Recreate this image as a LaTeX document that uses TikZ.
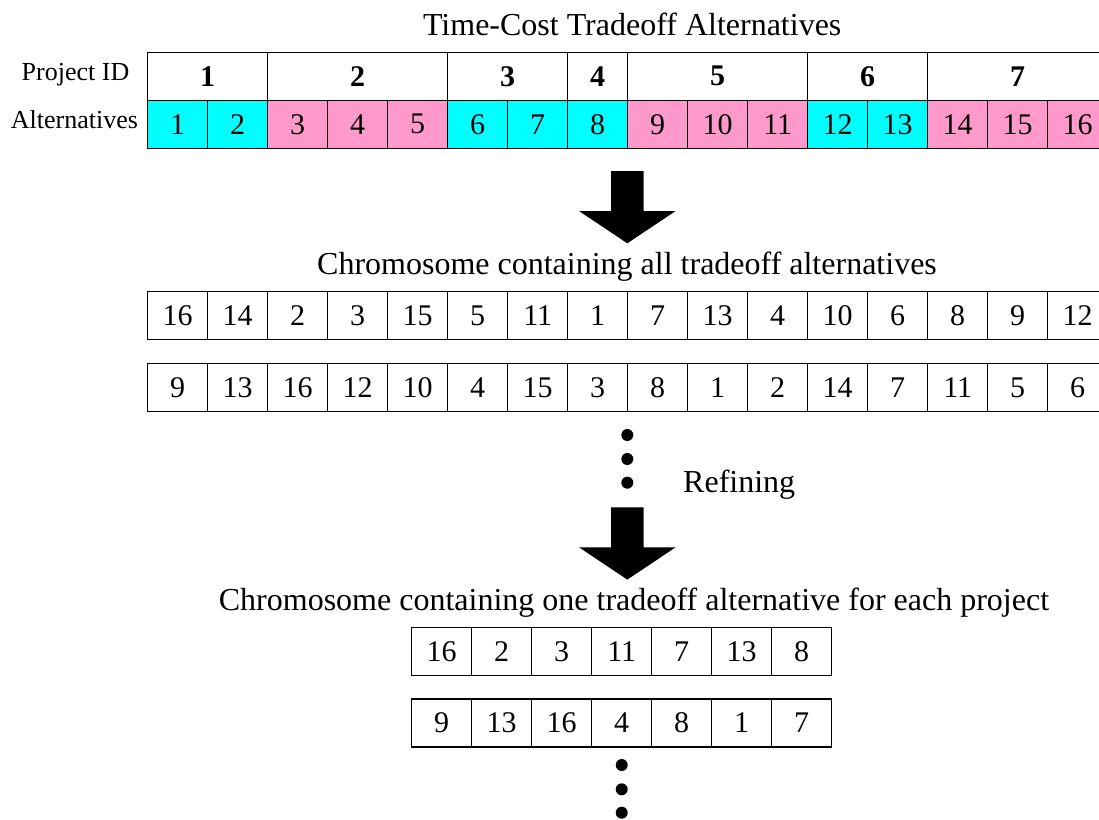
\documentclass[tikz,border=0pt]{standalone}
\usepackage{fontspec}
\setmainfont{Liberation Serif}
\definecolor{altcyan}{RGB}{0,255,255}
\definecolor{altpink}{RGB}{255,153,204}
\begin{document}
\begin{tikzpicture}[x=1pt,y=-1pt,
  cell/.style={draw=black, line width=1.5pt, minimum width=60pt,
    minimum height=48pt, inner sep=0pt, font=\fontsize{30}{36}\selectfont},
  projcell/.style={cell, font=\fontsize{30}{36}\selectfont\bfseries},
  heading/.style={anchor=base, inner sep=0pt, font=\fontsize{32}{38}\selectfont},
  rowlabel/.style={anchor=base, inner sep=0pt, font=\fontsize{26}{31}\selectfont},
  dot/.style={circle, fill=black, inner sep=0pt, minimum size=12pt},
  blockarrow/.pic={\fill[black] (-16.3,0) -- (16.3,0) -- (16.3,40) -- (48.3,40)
    -- (0,72.3) -- (-48.3,40) -- (-16.3,40) -- cycle;}]
\useasboundingbox (0,0) rectangle (1099,819);
\clip (0,0) rectangle (1099,819);

% ---- time-cost tradeoff table ----
\node[heading] (title) at (632.2,35) {Time-Cost Tradeoff Alternatives};
\node[rowlabel] (lblproj) at (75.5,80) {Project ID};
\node[rowlabel] (lblalt) at (74.5,128) {Alternatives};

\foreach \s/\n/\p in {1/2/1,3/3/2,6/2/3,8/1/4,9/3/5,12/2/6,14/3/7}
  \node[projcell, minimum width=\n*60pt] (proj\p) at ({147.7+60*(\s-1)+30*\n},76.3) {\p};

\foreach \c [count=\i] in {altcyan,altcyan,altpink,altpink,altpink,altcyan,altcyan,
    altcyan,altpink,altpink,altpink,altcyan,altcyan,altpink,altpink,altpink}
  \node[cell, fill=\c] (alt\i) at ({147.7+60*\i-30},124.3) {\i};

% ---- first block arrow ----
\coordinate (arrA) at (627.3,171);
\pic at (arrA) {blockarrow};

% ---- chromosomes holding every alternative ----
\node[heading] (allhead) at (627,274.7) {Chromosome containing all tradeoff alternatives};
\foreach \v [count=\i] in {16,14,2,3,15,5,11,1,7,13,4,10,6,8,9,12}
  \node[cell] (ca\i) at ({147.7+60*\i-30},315.6) {\v};
\foreach \v [count=\i] in {9,13,16,12,10,4,15,3,8,1,2,14,7,11,5,6}
  \node[cell] (cb\i) at ({147.7+60*\i-30},387.5) {\v};

\node[dot] (da1) at (627.3,435) {};
\node[dot] (da2) at (627.3,459) {};
\node[dot] (da3) at (627.3,482.7) {};
\node[anchor=base west, inner sep=0pt, font=\fontsize{32}{38}\selectfont] (refine) at (683,492.7) {Refining};

% ---- second block arrow ----
\coordinate (arrB) at (627.3,507.3);
\pic at (arrB) {blockarrow};

% ---- refined chromosomes, one alternative per project ----
\node[heading] (onehead) at (634,610) {Chromosome containing one tradeoff alternative for each project};
\foreach \v [count=\i] in {16,2,3,11,7,13,8}
  \node[cell] (cc\i) at ({411.7+60*\i-30},651.3) {\v};
\foreach \v [count=\i] in {9,13,16,4,8,1,7}
  \node[cell] (cd\i) at ({411.7+60*\i-30},723) {\v};

\node[dot] (db1) at (621.7,765) {};
\node[dot] (db2) at (621.7,789.3) {};
\node[dot] (db3) at (621.7,812.7) {};
\end{tikzpicture}
\end{document}
